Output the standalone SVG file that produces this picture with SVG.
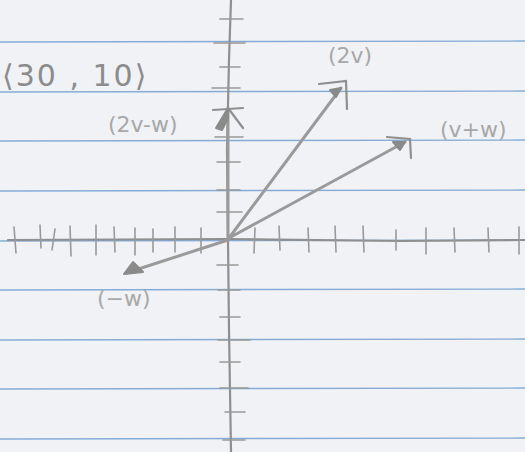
<svg xmlns="http://www.w3.org/2000/svg" width="525" height="452" viewBox="0 0 525 452">
<defs>
<style>
.paper{fill:#f0f2f6}
.rule{stroke:#86acd6;stroke-width:1.3}
.pen{stroke:#8f8f8f;stroke-width:2.2;stroke-linecap:round;fill:none}
.tick{stroke:#999;stroke-width:1.6;stroke-linecap:round}
.vec{stroke:#9a9a9a;stroke-width:3;stroke-linecap:round;fill:none}
.head{fill:#8a8a8a;stroke:#8a8a8a;stroke-width:2;stroke-linejoin:round}
.lbl{font-family:"DejaVu Sans",sans-serif;fill:#a8a8a8;font-size:22px}
.big{font-family:"DejaVu Sans",sans-serif;fill:#8c8c8c;font-size:30px}
</style>
</defs>
<rect class="paper" x="0" y="0" width="525" height="452"/>
<g id="rules">
<line class="rule" x1="0" y1="42" x2="525" y2="41"/>
<line class="rule" x1="0" y1="92" x2="525" y2="91"/>
<line class="rule" x1="0" y1="141" x2="525" y2="140"/>
<line class="rule" x1="0" y1="191" x2="525" y2="190"/>
<line class="rule" x1="0" y1="241" x2="525" y2="240"/>
<line class="rule" x1="0" y1="290" x2="525" y2="289"/>
<line class="rule" x1="0" y1="340" x2="525" y2="339"/>
<line class="rule" x1="0" y1="389" x2="525" y2="388"/>
<line class="rule" x1="0" y1="439" x2="525" y2="438"/>
</g>
<g id="axes">
<path class="pen" d="M231 0 L229 60 L227 150 L228 240 L229 330 L231 452"/>
<path class="pen" d="M8 240 L228 239 L400 241 L525 240"/>
<g class="tick">
<line x1="220" y1="19" x2="243" y2="19"/>
<line x1="214" y1="43" x2="245" y2="43"/>
<line x1="220" y1="67" x2="240" y2="67"/>
<line x1="212" y1="88" x2="240" y2="88"/>
<line x1="215" y1="137" x2="243" y2="137"/>
<line x1="217" y1="162" x2="240" y2="162"/>
<line x1="217" y1="190" x2="240" y2="190"/>
<line x1="217" y1="212" x2="242" y2="212"/>
<line x1="217" y1="265" x2="238" y2="265"/>
<line x1="218" y1="290" x2="240" y2="290"/>
<line x1="220" y1="317" x2="240" y2="317"/>
<line x1="218" y1="340" x2="250" y2="340"/>
<line x1="220" y1="362" x2="240" y2="362"/>
<line x1="220" y1="388" x2="248" y2="388"/>
<line x1="225" y1="412" x2="245" y2="412"/>
<line x1="223" y1="440" x2="245" y2="440"/>
<line x1="14" y1="227" x2="16" y2="253"/>
<line x1="40" y1="225" x2="41" y2="248"/>
<line x1="55" y1="229" x2="52" y2="250"/>
<line x1="70" y1="226" x2="71" y2="256"/>
<line x1="96" y1="225" x2="96" y2="255"/>
<line x1="114" y1="227" x2="115" y2="252"/>
<line x1="135" y1="228" x2="135" y2="255"/>
<line x1="153" y1="229" x2="153" y2="252"/>
<line x1="175" y1="227" x2="175" y2="252"/>
<line x1="201" y1="228" x2="201" y2="253"/>
<line x1="255" y1="228" x2="254" y2="253"/>
<line x1="279" y1="226" x2="280" y2="250"/>
<line x1="308" y1="228" x2="309" y2="252"/>
<line x1="335" y1="226" x2="336" y2="252"/>
<line x1="363" y1="226" x2="364" y2="252"/>
<line x1="396" y1="230" x2="396" y2="250"/>
<line x1="426" y1="228" x2="426" y2="254"/>
<line x1="454" y1="228" x2="455" y2="252"/>
<line x1="488" y1="228" x2="489" y2="252"/>
<line x1="519" y1="227" x2="519" y2="254"/>
</g>
</g>
<g id="connectors">
<g id="vec-2v">
<line class="vec" x1="229" y1="238" x2="341" y2="88"/>
<path class="head" d="M341 88 L330 90 L336 97 Z"/>
<path class="pen" d="M319 84 L346 81 L347 109"/>
</g>
<g id="vec-vw">
<line class="vec" x1="229" y1="238" x2="405" y2="142"/>
<path class="head" d="M405 142 L393 142 L400 150 Z"/>
<path class="pen" d="M387 137 L410 139 L411 158"/>
</g>
<g id="vec-neg-w">
<line class="vec" x1="228" y1="240" x2="126" y2="273"/>
<path class="head" d="M124 274 L133 262 L143 272 Z"/>
</g>
<g id="vec-2v-w">
<line class="vec" x1="228" y1="240" x2="228" y2="108"/>
<path class="head" d="M228 108 L216 128 L222 130 L228 118 Z"/>
<path class="pen" d="M228 108 L243 128"/>
<path class="pen" d="M213 110 L243 108"/>
</g>
</g>
<g id="labels">
<text class="big" x="2" y="86" letter-spacing="2">⟨30 , 10⟩</text>
<g id="label-2v"><text class="lbl" x="328" y="63">(2v)</text></g>
<g id="label-vw"><text class="lbl" x="440" y="137">(v+w)</text></g>
<g id="label-2vw"><text class="lbl" x="108" y="132">(2v-w)</text></g>
<g id="label-negw"><text class="lbl" x="97" y="306">(−w)</text></g>
</g>
</svg>
